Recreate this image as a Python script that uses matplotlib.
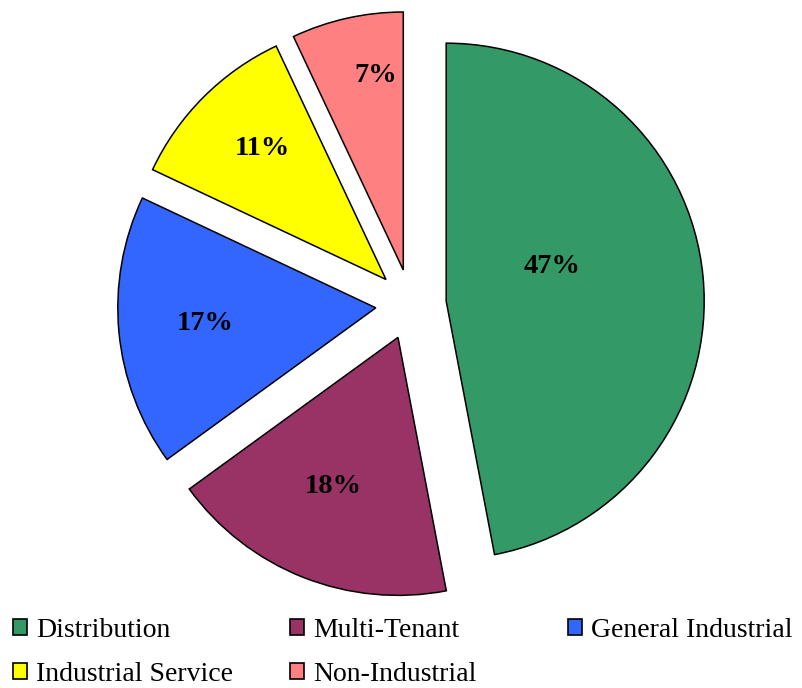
import numpy as np
import matplotlib
matplotlib.use("Agg")
import matplotlib.pyplot as plt
from matplotlib.patches import Patch

categories = ["Distribution", "Multi-Tenant", "General Industrial",
              "Industrial Service", "Non-Industrial"]
shares = [47, 18, 17, 11, 7]
colors = ["#339966", "#993366", "#3366FF", "#FFFF00", "#FF8080"]

# label placement tweaks (fraction of radius, degrees off the wedge mid-line)
label_dist = [0.43, 0.63, 0.665, 0.70, 0.76]
label_turn = [12.6, -2.0, 0.0, -1.6, -4.6]

plt.rcParams["font.family"] = ["Liberation Serif", "DejaVu Serif"]

W, H = 802, 688
fig = plt.figure(figsize=(W / 100, H / 100), dpi=100)
fig.patch.set_facecolor("white")

R = 258.0
cx, cy = 411.0, 304.5
half = 300.0
ax = fig.add_axes([(cx - half) / W, (H - cy - half) / H, 2 * half / W, 2 * half / H])

wedges, _ = ax.pie(shares, colors=colors, startangle=90, counterclock=False,
                   explode=[0.137] * len(shares), radius=1.0,
                   wedgeprops=dict(edgecolor="black", linewidth=1.1))
ax.set_xlim(-half / R, half / R)
ax.set_ylim(-half / R, half / R)
ax.set_aspect("equal")
ax.axis("off")

for w, val, d, t in zip(wedges, shares, label_dist, label_turn):
    ang = np.deg2rad((w.theta1 + w.theta2) / 2 + t)
    x0, y0 = w.center
    ax.text(x0 + d * np.cos(ang), y0 + d * np.sin(ang), f"{val}%",
            ha="center", va="center", fontsize=20.5, fontweight="bold")

# legend laid out in three evenly spaced columns
handles = [Patch(facecolor=c, edgecolor="black", linewidth=1.2) for c in colors]
columns = [[0, 3], [1, 4], [2]]
col_x = [13, 290, 568]
for idx, x in zip(columns, col_x):
    fig.legend([handles[i] for i in idx], [categories[i] for i in idx],
               loc="upper left", bbox_to_anchor=(x / W, (H - 618) / H),
               frameon=False, fontsize=20, handlelength=0.5, handleheight=0.5,
               handletextpad=0.32, labelspacing=0.68, borderpad=0.0,
               borderaxespad=0.0)

fig.savefig("out.png", dpi=100, facecolor="white")
